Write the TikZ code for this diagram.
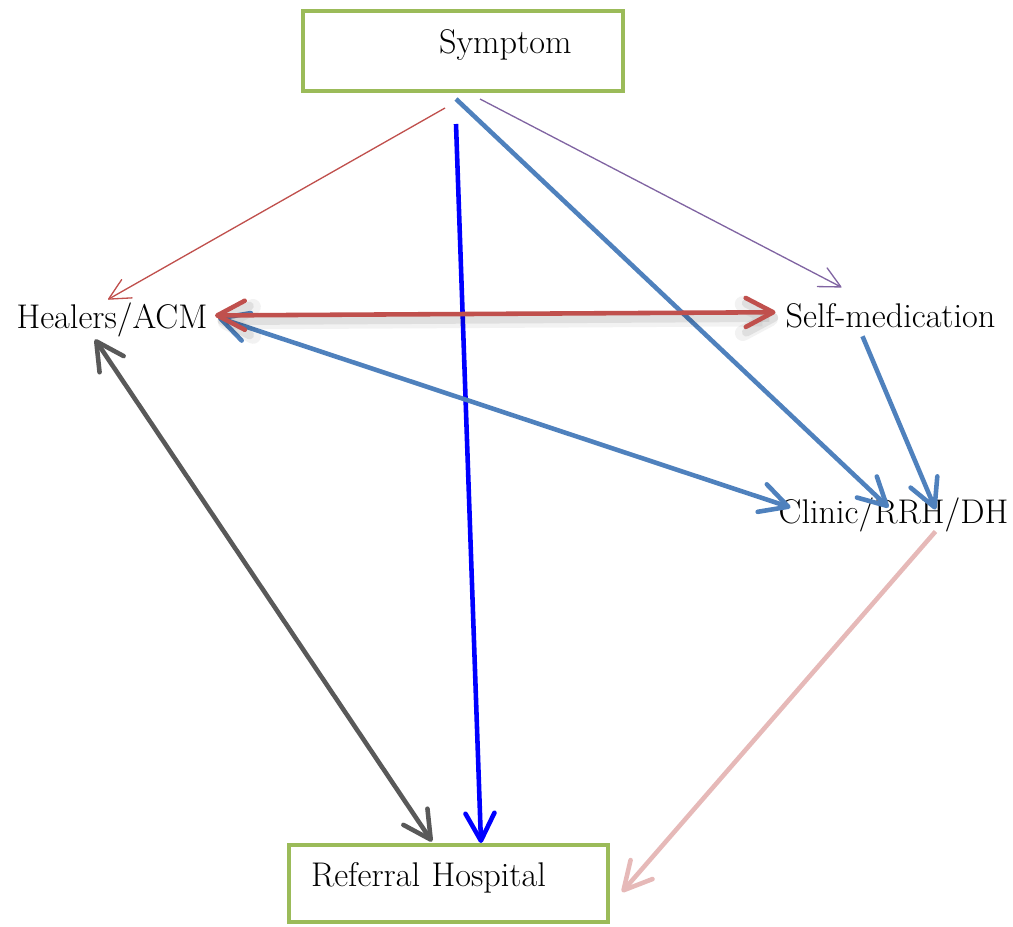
\documentclass[tikz,border=0pt]{standalone}
\usetikzlibrary{calc,arrows.meta}
\definecolor{boxgreen}{HTML}{9BBB59}
\definecolor{accred}{HTML}{C0504D}
\definecolor{accpurple}{HTML}{8064A2}
\definecolor{accblue}{HTML}{4F81BD}
\definecolor{accgray}{HTML}{595959}
\definecolor{accpink}{HTML}{E6B9B8}
\newcommand\hfont{\fontsize{19.5}{23}\selectfont}
\tikzset{
  hbox/.style={draw=boxgreen,line width=2.3pt,inner sep=0pt,font=\hfont,text height=.5cm,text depth=.4cm},
  place/.style={inner sep=0pt,font=\hfont,anchor=base},
  thin/.style={line width=.75pt,>={Straight Barb[length=.42cm,width=.42cm,round]}},
  fat/.style={line width=2.6pt,>={Straight Barb[length=.55cm,width=.58cm,round]}},
  shade/.style={preaction={draw=black,opacity=.05,line width=9pt,transform canvas={xshift=1.5pt,yshift=-3.5pt}},
                preaction={draw=black,opacity=.08,line width=5pt,transform canvas={xshift=1.5pt,yshift=-3pt}}}
}
\begin{document}
\begin{tikzpicture}[x=.02cm,y=-.02cm]
      \useasboundingbox (0,0) rectangle (1013,926);
      \node[hbox,minimum width=6.4cm,minimum height=1.6cm,text width=4.34cm,align=right] (sym) at (463,51) {Symptom};
      \node[hbox,minimum width=6.38cm,minimum height=1.54cm,text width=5.5cm,align=left] (ref) at (448.5,883.5) {Referral Hospital};
      \node[place] (heal) at (112,328) {Healers/ACM};
      \node[place] (self) at (890.5,327) {Self-medication};
      \node[place] (cli) at (893.5,523) {Clinic/RRH/DH};
      \draw[thin,accred,->] ($(sym.center)+(-18,57)$) -- ($(heal.center)+(-4,-20)$);
      \draw[thin,accpurple,->] ($(sym.center)+(17,48)$) -- ($(self.center)+(-49,-28)$);
      \draw[fat,blue,->] ($(sym.center)+(-7,73)$) -- ($(ref.center)+(32.5,-40.5)$);
      \draw[fat,accblue,->] ($(sym.center)+(-7,48)$) -- ($(cli.center)+(-5,-7)$);
      \draw[fat,accblue,<->] ($(heal.center)+(106,-2)$) -- ($(cli.center)+(-103,-7)$);
      \draw[fat,accred,shade,<->] ($(heal.center)+(103,-4)$) -- ($(self.center)+(-115,-3)$);
      \draw[fat,accblue,->] ($(self.center)+(-28,21)$) -- ($(cli.center)+(42,-5)$);
      \draw[fat,accgray,<->] ($(heal.center)+(-17,20)$) -- ($(ref.center)+(-16.5,-42)$);
      \draw[fat,accpink,->] ($(cli.center)+(42,17)$) -- ($(ref.center)+(173.5,8.5)$);
    \end{tikzpicture}
\end{document}
